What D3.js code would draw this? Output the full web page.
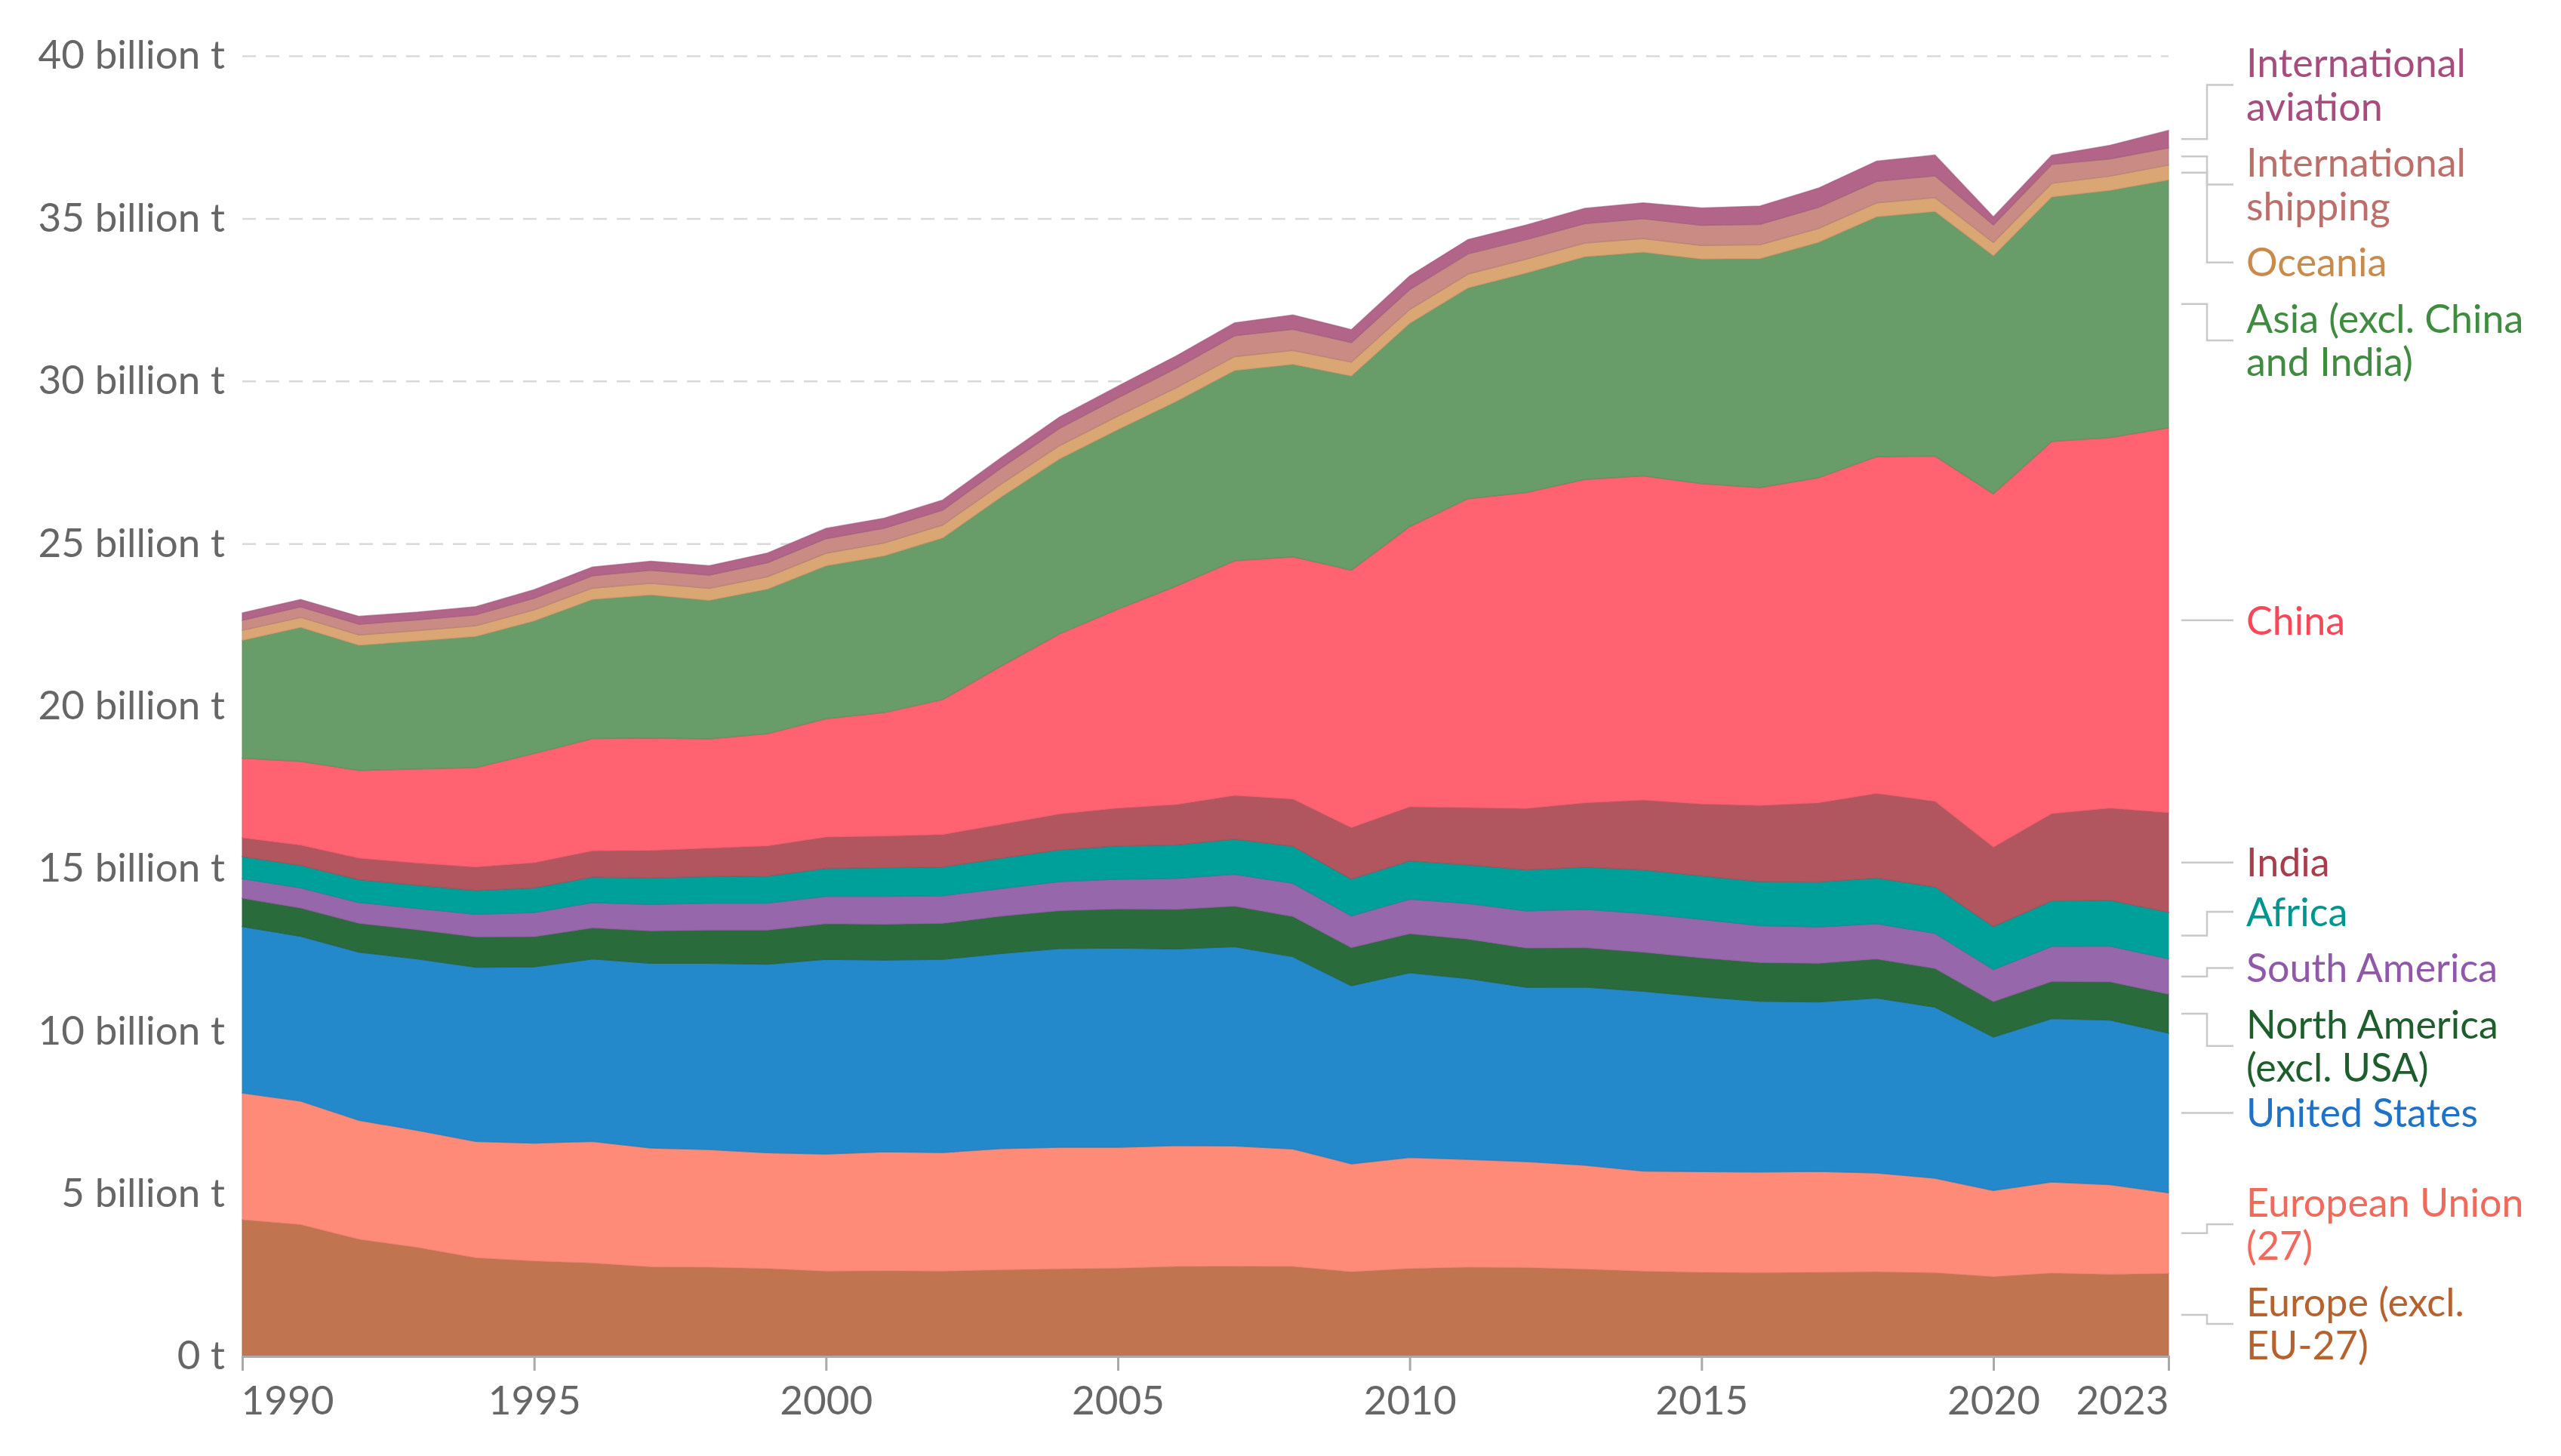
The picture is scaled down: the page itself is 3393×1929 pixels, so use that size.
<!DOCTYPE html>
<html>
<head>
<meta charset="utf-8">
<script src="https://cdn.jsdelivr.net/npm/d3@7"></script>
<style>
  body { margin: 0; background: #fff; }
  text { font-family: Lato, "Noto Sans", sans-serif; }
</style>
</head>
<body>
<svg width="3393" height="1929"></svg>
<script>
const years = d3.range(1990, 2024);

// Annual CO2 emissions, billion tonnes
const europeExclEU = [4.20, 4.05, 3.60, 3.35, 3.03, 2.93, 2.87, 2.75, 2.74, 2.70, 2.62, 2.63, 2.62, 2.66, 2.69, 2.71, 2.76, 2.77, 2.76, 2.60, 2.70, 2.74, 2.73, 2.68, 2.62, 2.58, 2.57, 2.58, 2.60, 2.57, 2.45, 2.56, 2.52, 2.55];
const eu27 = [3.90, 3.80, 3.66, 3.60, 3.58, 3.63, 3.74, 3.66, 3.62, 3.56, 3.60, 3.66, 3.65, 3.73, 3.74, 3.72, 3.72, 3.70, 3.62, 3.32, 3.42, 3.32, 3.26, 3.20, 3.08, 3.10, 3.10, 3.11, 3.04, 2.91, 2.65, 2.80, 2.76, 2.48];
const unitedStates = [5.12, 5.07, 5.17, 5.27, 5.36, 5.42, 5.61, 5.68, 5.73, 5.80, 5.99, 5.90, 5.94, 6.00, 6.11, 6.13, 6.05, 6.13, 5.91, 5.48, 5.68, 5.56, 5.36, 5.48, 5.53, 5.38, 5.25, 5.21, 5.38, 5.26, 4.72, 5.03, 5.06, 4.91];
const northAmericaExclUSA = [0.87, 0.87, 0.89, 0.90, 0.93, 0.93, 0.96, 1.00, 1.02, 1.05, 1.10, 1.10, 1.11, 1.15, 1.17, 1.20, 1.22, 1.25, 1.24, 1.17, 1.20, 1.21, 1.21, 1.21, 1.20, 1.20, 1.19, 1.19, 1.20, 1.19, 1.09, 1.14, 1.18, 1.20];
const southAmerica = [0.60, 0.62, 0.64, 0.66, 0.70, 0.74, 0.78, 0.81, 0.83, 0.83, 0.84, 0.86, 0.85, 0.85, 0.89, 0.92, 0.95, 0.98, 1.02, 0.98, 1.06, 1.10, 1.14, 1.18, 1.19, 1.18, 1.14, 1.12, 1.09, 1.08, 0.99, 1.08, 1.10, 1.09];
const africa = [0.68, 0.69, 0.70, 0.71, 0.73, 0.76, 0.78, 0.81, 0.82, 0.83, 0.86, 0.88, 0.88, 0.93, 0.98, 1.02, 1.03, 1.08, 1.14, 1.13, 1.18, 1.19, 1.26, 1.30, 1.34, 1.34, 1.35, 1.38, 1.40, 1.43, 1.32, 1.40, 1.41, 1.43];
const india = [0.58, 0.62, 0.66, 0.68, 0.72, 0.77, 0.81, 0.85, 0.87, 0.93, 0.96, 0.97, 1.00, 1.04, 1.10, 1.16, 1.24, 1.34, 1.45, 1.58, 1.66, 1.76, 1.89, 1.97, 2.15, 2.21, 2.34, 2.43, 2.60, 2.63, 2.44, 2.68, 2.83, 3.06];
const china = [2.45, 2.58, 2.70, 2.90, 3.06, 3.36, 3.45, 3.46, 3.36, 3.45, 3.64, 3.80, 4.15, 4.87, 5.54, 6.12, 6.72, 7.22, 7.45, 7.92, 8.62, 9.50, 9.72, 9.95, 9.97, 9.85, 9.78, 10.00, 10.36, 10.62, 10.87, 11.45, 11.40, 11.84];
const asiaExcl = [3.62, 4.12, 3.85, 3.93, 4.03, 4.08, 4.28, 4.40, 4.26, 4.45, 4.70, 4.82, 4.97, 5.20, 5.38, 5.52, 5.68, 5.85, 5.92, 5.97, 6.25, 6.48, 6.75, 6.85, 6.88, 6.91, 7.04, 7.24, 7.38, 7.52, 7.32, 7.52, 7.60, 7.62];
const oceania = [0.31, 0.31, 0.32, 0.32, 0.33, 0.34, 0.35, 0.36, 0.37, 0.38, 0.39, 0.40, 0.40, 0.40, 0.41, 0.42, 0.42, 0.43, 0.43, 0.43, 0.43, 0.43, 0.43, 0.42, 0.42, 0.42, 0.43, 0.43, 0.43, 0.43, 0.41, 0.42, 0.44, 0.46];
const shipping = [0.31, 0.32, 0.33, 0.33, 0.34, 0.36, 0.38, 0.40, 0.41, 0.43, 0.45, 0.45, 0.46, 0.49, 0.53, 0.56, 0.60, 0.64, 0.65, 0.60, 0.61, 0.62, 0.60, 0.60, 0.61, 0.62, 0.63, 0.65, 0.66, 0.67, 0.54, 0.58, 0.53, 0.53];
const aviation = [0.23, 0.23, 0.24, 0.24, 0.25, 0.26, 0.27, 0.28, 0.29, 0.30, 0.32, 0.31, 0.31, 0.32, 0.35, 0.36, 0.38, 0.40, 0.44, 0.40, 0.42, 0.44, 0.45, 0.47, 0.49, 0.53, 0.56, 0.59, 0.62, 0.64, 0.25, 0.28, 0.42, 0.54];

const seriesNames = ["Europe (excl. EU-27)", "European Union (27)", "United States", "North America (excl. USA)",
  "South America", "Africa", "India", "China", "Asia (excl. China and India)", "Oceania",
  "International shipping", "International aviation"];
const seriesValues = [europeExclEU, eu27, unitedStates, northAmericaExclUSA, southAmerica, africa,
  india, china, asiaExcl, oceania, shipping, aviation];
const labelLines = [["Europe (excl.", "EU-27)"], ["European Union", "(27)"], ["United States"], ["North America", "(excl. USA)"],
  ["South America"], ["Africa"], ["India"], ["China"], ["Asia (excl. China", "and India)"], ["Oceania"],
  ["International", "shipping"], ["International", "aviation"]];
const areaColors = ["#c07450", "#fe8a78", "#2389cb", "#2a6b3c", "#9767ab", "#00a09a",
  "#b1565e", "#ff6271", "#689c68", "#daa674", "#c98b84", "#b36589"];
const textColors = ["#b5622f", "#f0695a", "#1f72c6", "#1d5e2c", "#9158aa", "#00968f",
  "#a83e4b", "#fa4659", "#3f8b3f", "#c98b4b", "#bc6f6a", "#a64d7e"];

const yTicks = [0, 5, 10, 15, 20, 25, 30, 35, 40];
const xTicks = [1990, 1995, 2000, 2005, 2010, 2015, 2020, 2023];

const svg = d3.select("svg");
const plotLeft = 321, plotRight = 2873, plotTop = 74, plotBottom = 1797;

const table = years.map((yr, i) => {
  const row = { year: yr };
  seriesNames.forEach((n, k) => { row[n] = seriesValues[k][i]; });
  return row;
});
const stacked = d3.stack().keys(seriesNames)(table);

const x = d3.scaleLinear().domain([1990, 2023]).range([plotLeft, plotRight]);
const y = d3.scaleLinear().domain([0, 40]).range([plotBottom, plotTop]);

// gridlines + y labels
const yAxis = svg.append("g")
  .attr("transform", `translate(${plotLeft},0)`)
  .call(d3.axisLeft(y).tickValues(yTicks).tickSize(-(plotRight - plotLeft)).tickPadding(23)
    .tickFormat(d => d === 0 ? "0 t" : `${d} billion t`));
yAxis.select(".domain").remove();
yAxis.selectAll(".tick line")
  .attr("stroke", "#d9d9d9").attr("stroke-width", 2.5).attr("stroke-dasharray", "18,13")
  .filter(d => d === 0).remove();
yAxis.selectAll(".tick text")
  .attr("font-size", 53).attr("fill", "#666").attr("font-family", "Lato, sans-serif");

// areas
const area = d3.area()
  .x(d => x(d.data.year))
  .y0(d => y(d[0]))
  .y1(d => y(d[1]));
svg.append("g").selectAll("path")
  .data(stacked)
  .join("path")
  .attr("d", area)
  .attr("fill", (d, i) => areaColors[i])
  .attr("stroke", (d, i) => d3.color(areaColors[i]).darker(0.35))
  .attr("stroke-width", 1.5)
  .attr("stroke-opacity", 0.6);

// x axis
const xAxis = svg.append("g")
  .attr("transform", `translate(0,${plotBottom})`)
  .call(d3.axisBottom(x).tickValues(xTicks).tickSize(19).tickPadding(20).tickFormat(d3.format("d")));
xAxis.select(".domain").attr("stroke", "#aaa").attr("stroke-width", 3);
xAxis.selectAll(".tick line").attr("stroke", "#aaa").attr("stroke-width", 3);
xAxis.selectAll(".tick text")
  .attr("font-size", 53).attr("fill", "#666").attr("font-family", "Lato, sans-serif")
  .attr("text-anchor", d => d === 1990 ? "start" : d === 2023 ? "end" : "middle")
  .attr("dx", d => d === 1990 ? -2 : 0);

// labels on the right
const lineH = 57.5, gap = 17;
const last = years.length - 1;
const items = stacked.map((s, i) => ({
  i,
  target: y((s[last][0] + s[last][1]) / 2),
  h: labelLines[i].length * lineH
}));

function placeLabels(list, minY, maxY) {
  let clusters = list.slice().sort((a, b) => a.target - b.target).map(d => ({ items: [d] }));
  function layout(c) {
    let off = 0;
    const offs = c.items.map(d => { const o = off + d.h / 2; off += d.h + gap; return o; });
    c.H = off - gap;
    c.top = d3.mean(c.items, (d, k) => d.target - offs[k]);
    c.top = Math.max(minY, Math.min(maxY - c.H, c.top));
  }
  clusters.forEach(layout);
  let again = true;
  while (again) {
    again = false;
    for (let k = 0; k < clusters.length - 1; k++) {
      const a = clusters[k], b = clusters[k + 1];
      if (a.top + a.H > b.top) {
        a.items = a.items.concat(b.items);
        clusters.splice(k + 1, 1);
        layout(a);
        again = true;
        break;
      }
    }
  }
  clusters.forEach(c => {
    let yy = c.top;
    c.items.forEach(d => { d.y = yy + d.h / 2; yy += d.h + gap; });
  });
}
placeLabels(items, 55, 1900);

const lx0 = plotRight + 17, elbow = plotRight + 51, lx1 = plotRight + 86, tx = plotRight + 103;
const labels = svg.append("g");
labels.selectAll("path")
  .data(items)
  .join("path")
  .attr("d", d => `M${lx0},${d.target}H${elbow}V${d.y}H${lx1}`)
  .attr("fill", "none")
  .attr("stroke", "#c8c8c8")
  .attr("stroke-width", 2.5);

labels.selectAll("text")
  .data(items)
  .join("text")
  .attr("x", tx)
  .attr("font-size", 52)
  .attr("fill", d => textColors[d.i])
  .each(function (d) {
    const lines = labelLines[d.i];
    const t = d3.select(this);
    lines.forEach((ln, k) => {
      t.append("tspan")
        .attr("x", tx)
        .attr("y", d.y - (lines.length - 1) * lineH / 2 + k * lineH)
        .attr("dy", "0.36em")
        .text(ln);
    });
  });
</script>
</body>
</html>
